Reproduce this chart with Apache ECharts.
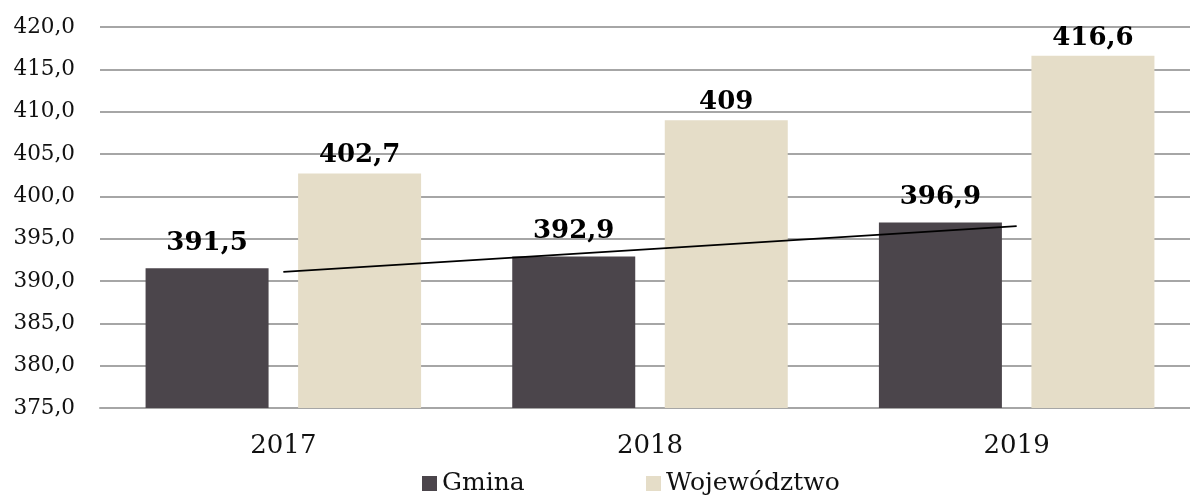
<!DOCTYPE html>
<html>
<head>
<meta charset="utf-8">
<script src="https://cdn.jsdelivr.net/npm/echarts@6/dist/echarts.min.js"></script>
<style>html,body{margin:0;padding:0;background:#fff;overflow:hidden}#c{width:1200px;height:496px}</style>
</head>
<body>
<div id="c"></div>
<script>
const categories = ['2017', '2018', '2019'];
const gmina = [391.5, 392.9, 396.9];
const wojewodztwo = [402.7, 409, 416.6];
const trendGmina = [391.07, 393.77, 396.47];
const yTicks = { min: 375, max: 420, interval: 5 };

const FONT = 'DejaVu Serif';
const fmt = v => String(v).replace('.', ',');

const chart = echarts.init(document.getElementById('c'), null, { renderer: 'canvas' });
chart.setOption({
  animation: false,
  backgroundColor: '#fff',
  textStyle: { fontFamily: FONT },
  grid: { left: 100, right: 0, top: 27, bottom: 88, containLabel: false },
  legend: [
    { data: ['Gmina'], left: 417, top: 466, icon: 'rect', itemWidth: 15, itemHeight: 15, itemGap: 5,
      textStyle: { fontFamily: FONT, fontSize: 25, color: '#111' } },
    { data: ['Województwo'], left: 641, top: 466, icon: 'rect', itemWidth: 15, itemHeight: 15, itemGap: 5,
      textStyle: { fontFamily: FONT, fontSize: 25, color: '#111' } }
  ],
  xAxis: {
    type: 'category',
    data: categories,
    axisLine: { show: true, lineStyle: { color: '#a6a6a6', width: 2 } },
    axisTick: { show: false },
    axisLabel: { margin: 25, fontFamily: FONT, fontSize: 26, color: '#111' }
  },
  yAxis: {
    type: 'value',
    min: yTicks.min, max: yTicks.max, interval: yTicks.interval,
    axisLine: { show: false },
    axisTick: { show: false },
    splitLine: { lineStyle: { color: '#a6a6a6', width: 2 } },
    axisLabel: { margin: 25, fontFamily: FONT, fontSize: 21.5, color: '#111',
      formatter: v => v.toFixed(1).replace('.', ',') }
  },
  series: [
    { name: 'Gmina', type: 'bar', data: gmina, barWidth: 123, barGap: '24%',
      itemStyle: { color: '#4b454b' },
      label: { show: true, position: 'top', distance: 12, fontFamily: FONT, fontWeight: 'bold', fontSize: 26, color: '#000',
        formatter: p => fmt(p.value) } },
    { name: 'Województwo', type: 'bar', data: wojewodztwo, barWidth: 123,
      itemStyle: { color: '#e5ddc8' },
      label: { show: true, position: 'top', distance: 5, fontFamily: FONT, fontWeight: 'bold', fontSize: 26, color: '#000',
        formatter: p => fmt(p.value) } },
    { name: 'Trend', type: 'line', data: trendGmina, symbol: 'none', silent: true,
      lineStyle: { color: '#000', width: 1.8 }, itemStyle: { color: '#000' }, z: 5 }
  ]
});
</script>
</body>
</html>
